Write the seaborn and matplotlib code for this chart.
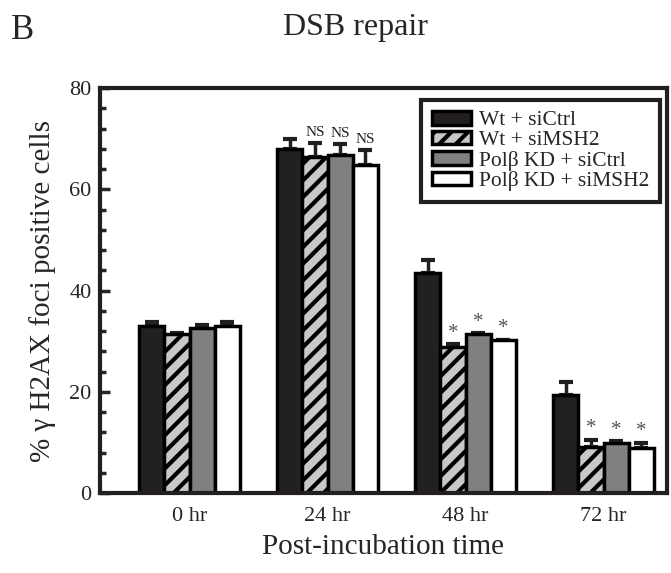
import pandas as pd
import seaborn as sns
import matplotlib.pyplot as plt
import matplotlib.patches as mpatches
from matplotlib.ticker import MultipleLocator

TIMES = ["0 hr", "24 hr", "48 hr", "72 hr"]
GROUPS = ["Wt + siCtrl", "Wt + siMSH2", "Polβ KD + siCtrl", "Polβ KD + siMSH2"]
wt_ctrl = [33.0, 68.0, 43.5, 19.4]
wt_msh2 = [31.5, 66.3, 28.8, 9.0]
kd_ctrl = [32.5, 66.8, 31.4, 9.9]
kd_msh2 = [32.9, 64.8, 30.2, 8.9]
wt_ctrl_err = [0.8, 1.9, 2.5, 2.5]
wt_msh2_err = [0.2, 2.8, 0.6, 1.5]
kd_ctrl_err = [0.7, 2.1, 0.2, 0.3]
kd_msh2_err = [0.8, 3.0, 0.1, 1.0]
marks = {1: ["", "NS", "NS", "NS"], 2: ["", "*", "*", "*"], 3: ["", "*", "*", "*"]}

rows = []
for g, vals, errs in zip(GROUPS, [wt_ctrl, wt_msh2, kd_ctrl, kd_msh2],
                         [wt_ctrl_err, wt_msh2_err, kd_ctrl_err, kd_msh2_err]):
    for t, v, e in zip(TIMES, vals, errs):
        rows.append({"time": t, "group": g, "value": v, "err": e})
df = pd.DataFrame(rows)

colors = ["#231f20", "#c8c8c8", "#808082", "#ffffff"]
hatches = ["", "//", "", ""]

sns.set_style("ticks")
plt.rcParams["font.family"] = ["Liberation Serif", "DejaVu Serif"]
plt.rcParams["hatch.linewidth"] = 3.0

fig = plt.figure(figsize=(6.71, 5.73), dpi=100)
ax = fig.add_axes([0.149, 0.1396, 0.845, 0.7068])

sns.barplot(data=df, x="time", y="value", hue="group", order=TIMES, hue_order=GROUPS,
            palette=colors, edgecolor="black", linewidth=2.5, width=0.73,
            errorbar=None, legend=False, ax=ax)

for gi, (g, cont) in enumerate(zip(GROUPS, ax.containers)):
    sub = df[df.group == g].set_index("time").loc[TIMES]
    for ti, bar in enumerate(cont):
        bar.set_hatch(hatches[gi])
        bar.set_zorder(2)
        x = bar.get_x() + bar.get_width() / 2
        v = sub["value"].iloc[ti]
        e = sub["err"].iloc[ti]
        ax.errorbar(x, v, yerr=[[0], [e]], fmt="none", ecolor="#231f20",
                    elinewidth=2.5, capsize=5, capthick=3, zorder=1)
        if ti in marks and marks[ti][gi]:
            lab = marks[ti][gi]
            if lab == "NS":
                ax.text(x, v + e + 0.8, lab, ha="center", va="bottom", fontsize=11, color="#231f20")
            else:
                ax.text(x, v + e + 0.3, lab, ha="center", va="bottom", fontsize=15, color="#555555")

ax.set_xlim(-0.65, 3.46)
ax.set_ylim(0, 80)
ax.yaxis.set_major_locator(MultipleLocator(20))
ax.yaxis.set_minor_locator(MultipleLocator(4))
ax.tick_params(axis="y", which="major", direction="in", length=7, width=2.5, labelsize=16, pad=6)
ax.tick_params(axis="y", which="minor", direction="in", length=4, width=2.5)
ax.tick_params(axis="x", length=0, labelsize=16, pad=10)
for s in ax.spines.values():
    s.set_linewidth(3)
    s.set_color("#231f20")

ax.set_xlabel("Post-incubation time", fontsize=21, labelpad=6)
ax.set_ylabel("% γ H2AX foci positive cells", fontsize=21, labelpad=10)

handles = [mpatches.Patch(facecolor=c, edgecolor="black", hatch=h, linewidth=2.5)
           for c, h in zip(colors, hatches)]
leg = ax.legend(handles, GROUPS, loc="upper right", bbox_to_anchor=(0.988, 0.970),
                borderaxespad=0, fontsize=15.5, frameon=True, fancybox=False, framealpha=1,
                handlelength=1.8, handleheight=0.6, labelspacing=0.02,
                handletextpad=0.4, borderpad=0.5)
leg.get_frame().set_edgecolor("#231f20")
leg.get_frame().set_linewidth(3)

fig.text(0.016, 0.947, "B", fontsize=25, ha="left", va="center")
fig.text(0.53, 0.952, "DSB repair", fontsize=23, ha="center", va="center")

fig.savefig("out.png", dpi=100)
